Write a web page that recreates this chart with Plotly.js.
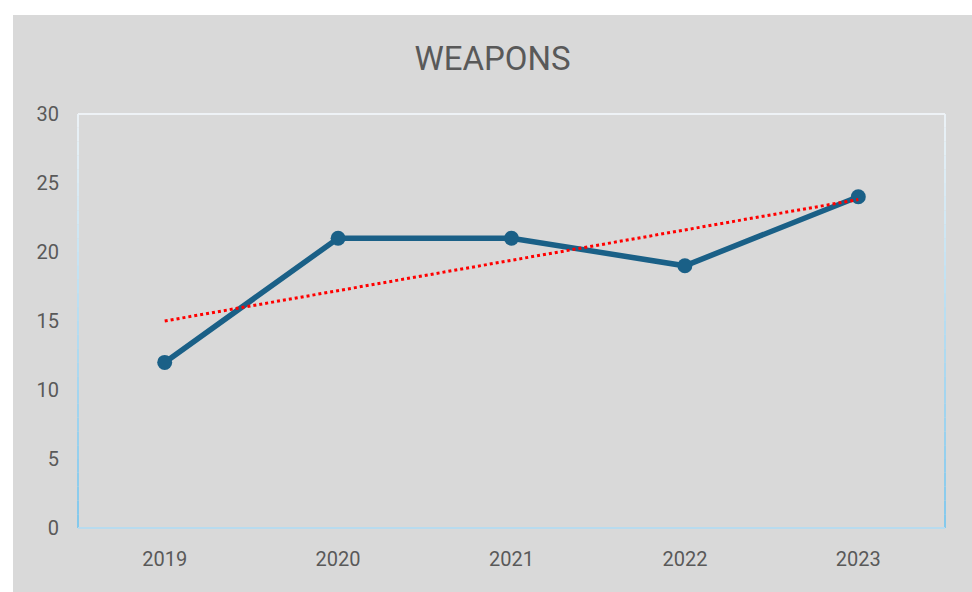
<!DOCTYPE html>
<html>
<head>
<meta charset="utf-8">
<script src="https://cdn.plot.ly/plotly-3.0.1.min.js"></script>
<style>
  html, body { margin: 0; padding: 0; background: #ffffff; }
  #chart { position: absolute; left: 13px; top: 15px; width: 959px; height: 577px; }
</style>
</head>
<body>
<div id="chart"></div>
<script>
// Data
const years = [2019, 2020, 2021, 2022, 2023];
const weapons = [12, 21, 21, 19, 24];
const trendYears = [2019, 2023];
const trendValues = [15.0, 23.8];
const yTicks = [0, 5, 10, 15, 20, 25, 30];

const textColor = '#595959';

// Border shapes (styling only)
const shapes = [];
function lerp(a, b, t) { return Math.round(a + (b - a) * t); }
function colorAt(t) {
  const c0 = [236, 242, 246], c1 = [130, 200, 236];
  return 'rgb(' + lerp(c0[0], c1[0], t) + ',' + lerp(c0[1], c1[1], t) + ',' + lerp(c0[2], c1[2], t) + ')';
}
const N = 30;
for (let i = 0; i < N; i++) {
  const t = (i + 0.5) / N;
  const y1 = 1 - i / N, y0 = 1 - (i + 1) / N;
  ['left', 'right'].forEach(side => {
    const x = side === 'left' ? 0 : 1;
    shapes.push({ type: 'line', xref: 'paper', yref: 'paper', x0: x, x1: x, y0: y0, y1: y1,
      line: { color: colorAt(t), width: 2 }, layer: 'below' });
  });
}
shapes.push({ type: 'line', xref: 'paper', yref: 'paper', x0: 0, x1: 1, y0: 1, y1: 1,
  line: { color: '#eef2f6', width: 2 }, layer: 'below' });
shapes.push({ type: 'line', xref: 'paper', yref: 'paper', x0: 0, x1: 1, y0: 0, y1: 0,
  line: { color: '#b8dbee', width: 2 }, layer: 'below' });

const traces = [
  {
    x: years, y: weapons, type: 'scatter', mode: 'lines+markers',
    line: { color: '#1a6087', width: 5.5 },
    marker: { color: '#1a6087', size: 15 },
    hoverinfo: 'x+y', showlegend: false
  },
  {
    x: trendYears, y: trendValues, type: 'scatter', mode: 'lines',
    line: { color: '#ff0000', width: 3, dash: 'dot' },
    hoverinfo: 'skip', showlegend: false
  }
];

const layout = {
  width: 959, height: 577,
  paper_bgcolor: '#d9d9d9',
  plot_bgcolor: '#d9d9d9',
  margin: { l: 65, r: 27, t: 99, b: 64 },
  font: { family: 'Roboto, "Open Sans", sans-serif', color: textColor, size: 20 },
  title: {
    text: 'WEAPONS',
    font: { family: 'Roboto, sans-serif', size: 33, color: textColor },
    x: 0.5, xanchor: 'center', xref: 'container',
    y: 1 - 43 / 577, yanchor: 'middle', yref: 'container'
  },
  xaxis: {
    range: [2018.5, 2023.5],
    tickvals: years, ticktext: years.map(String),
    showgrid: false, zeroline: false, showline: false,
    ticks: '', ticklabelstandoff: 17,
    tickfont: { size: 20, color: textColor },
    fixedrange: true
  },
  yaxis: {
    range: [0, 30],
    tickvals: yTicks,
    showgrid: false, zeroline: false, showline: false,
    ticks: '', ticklabelstandoff: 18,
    tickfont: { size: 20, color: textColor },
    fixedrange: true
  },
  shapes: shapes
};

Plotly.newPlot('chart', traces, layout, { displayModeBar: false, staticPlot: true });
</script>
</body>
</html>
